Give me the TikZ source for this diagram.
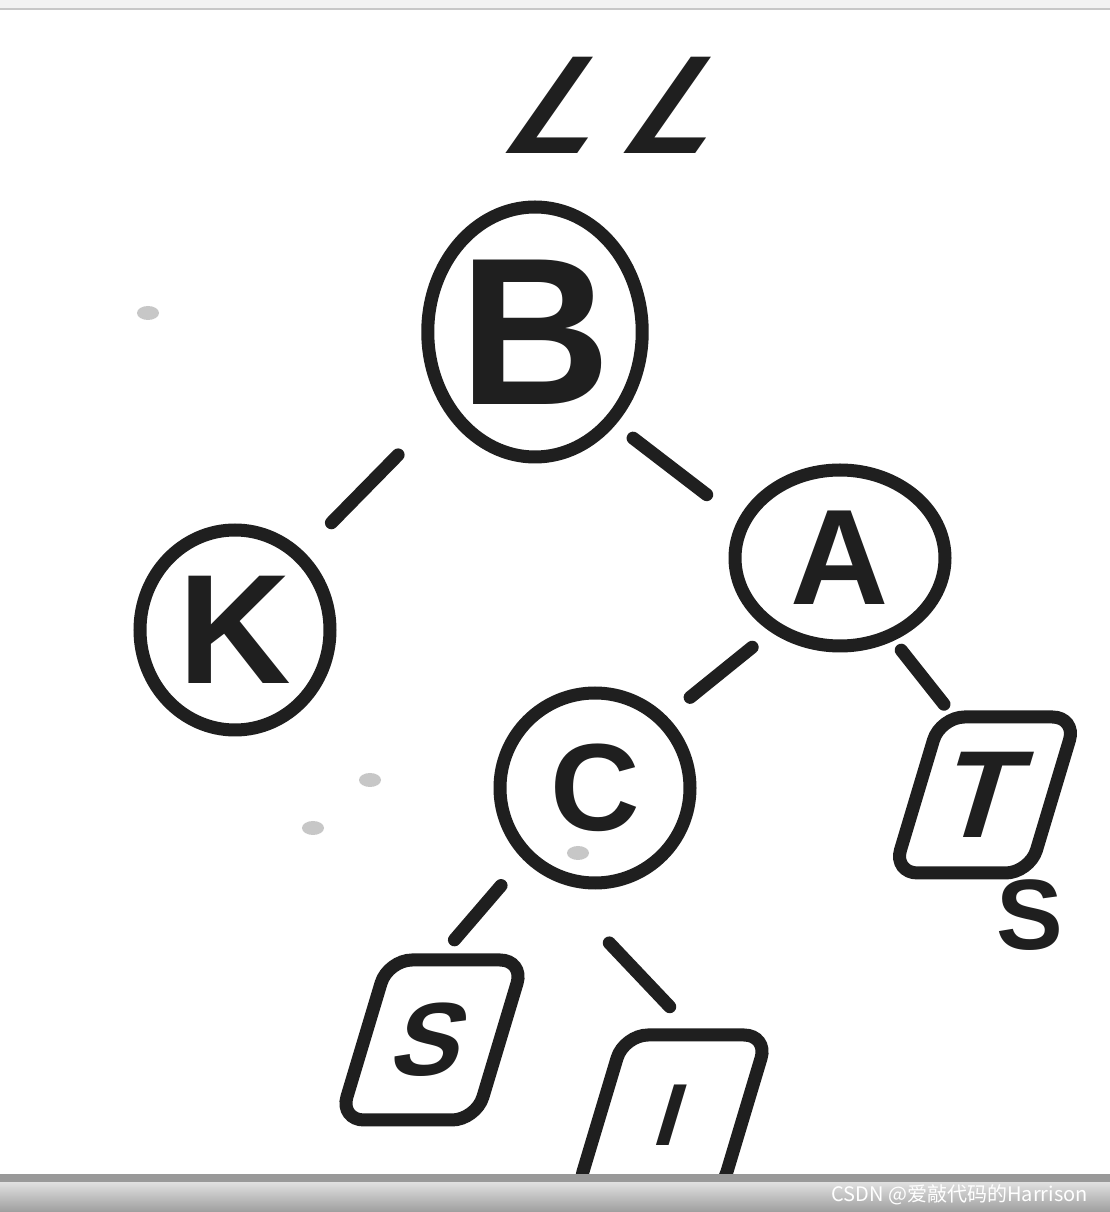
\documentclass[tikz,border=0pt]{standalone}
\usepackage{fontspec}
\setmainfont{Liberation Sans}
\newfontfamily\cjkfont{Noto Sans CJK SC}
\usetikzlibrary{shapes.geometric}
\colorlet{ink}{black!88}

\begin{document}
\begin{tikzpicture}[x=0.5pt,y=0.5pt,line cap=round]
  \tikzstyle{round} = [ellipse, draw=ink, text=ink, line width=6.5pt,
    inner sep=0pt]
  \tikzstyle{leaf} = [rectangle, draw=ink, text=ink, rounded corners=12pt,
    line width=6.5pt, inner sep=0pt, xslant=0.3, transform shape]
  \tikzstyle{link} = [draw=ink, line width=6.5pt, line cap=round]
  \tikzstyle{speck} = [ellipse, fill=black!22, inner sep=0pt,
    minimum width=11pt, minimum height=7pt]

  \useasboundingbox (0,0) rectangle (1110,1212);
  \fill[white] (0,0) rectangle (1110,1212);

  \node[speck] (s1) at (148,899) {};
  \node[speck] (s2) at (370,432) {};
  \node[speck] (s3) at (313,384) {};
  \node[speck] (s4) at (578,359) {};

  \node[text=ink, font=\fontsize{70}{70}\selectfont\bfseries, xslant=0.7,
        transform shape] (LL) at (632,1107) {L\hspace{16pt}L};
  \node[round, minimum width=107pt, minimum height=125pt,
        font=\fontsize{105}{105}\selectfont\bfseries] (B) at (535,880) {B};
  \node[round, minimum width=95pt, minimum height=100pt,
        font=\fontsize{78}{78}\selectfont\bfseries] (K) at (235,582) {K};
  \node[round, minimum width=105pt, minimum height=88pt,
        font=\fontsize{68}{68}\selectfont\bfseries] (A) at (840,654) {A};
  \node[round, minimum width=95pt, minimum height=95pt,
        font=\fontsize{62}{62}\selectfont\bfseries] (C) at (595,424) {C};
  \node[leaf, minimum width=68pt, minimum height=78pt,
        font=\fontsize{62}{62}\selectfont\bfseries] (T) at (985,417) {T};
  \node[leaf, minimum width=68pt, minimum height=80pt,
        font=\fontsize{52}{52}\selectfont\bfseries] (S) at (432,172) {S};
  \node[leaf, minimum width=72pt, minimum height=80pt,
        font=\fontsize{44}{44}\selectfont\bfseries] (I) at (672,97) {I};
  \node[text=ink, font=\fontsize{50}{50}\selectfont\bfseries] (h)
        at (1030,297) {S};

  \draw[link]
        (B.220) edge[shorten <=32pt, shorten >=20pt] (K.49)
        (B.-49) edge[shorten <=11pt, shorten >=20pt] (A.159)
        (A.227) edge[shorten <=12pt, shorten >=15pt] (C.45)
        (A.-57) edge[shorten <=6pt, shorten >=4pt]   (T.126)
        (C.225) edge[shorten <=17pt, shorten >=9pt]  (S.100)
        (C.242) edge[shorten <=45pt, shorten >=15pt] (I.95);

  % window bars
  \fill[black!5] (0,1203) rectangle (1110,1212);
  \draw[black!22, line width=1pt] (0,1203) -- (1110,1203);
  \shade[top color=black!12, bottom color=black!38] (0,0) rectangle (1110,30);
  \fill[black!40] (0,30) rectangle (1110,38);
  \node[anchor=east, text=white, font=\cjkfont\fontsize{10}{10}\selectfont]
        (mark) at (1095,17) {CSDN @爱敲代码的Harrison};
\end{tikzpicture}
\end{document}
